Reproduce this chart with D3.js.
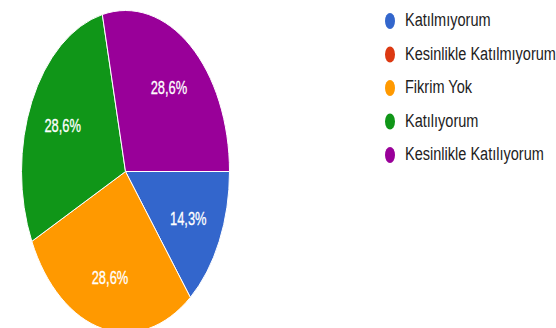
<!DOCTYPE html>
<html>
<head>
<meta charset="utf-8">
<script src="https://cdn.jsdelivr.net/npm/d3@7"></script>
<style>
  html, body { margin: 0; padding: 0; background: #fff; }
  svg { display: block; }
  text { font-family: "Liberation Sans", Arial, sans-serif; }
</style>
</head>
<body>
<svg id="chart" width="556" height="328"></svg>
<script>
// Survey answers and their counts
const categories = ["Katılmıyorum", "Kesinlikle Katılmıyorum", "Fikrim Yok", "Katılıyorum", "Kesinlikle Katılıyorum"];
const counts = [1, 0, 2, 2, 2];
const colors = ["#3366cc", "#dc3912", "#ff9900", "#109618", "#990099"];

const svg = d3.select("#chart");

// Pie geometry (drawn as a circle, squeezed horizontally into an ellipse)
const cx = 125.5, cy = 171.5, ry = 161, rx = 104;
const sx = rx / ry;

const total = d3.sum(counts);
const fmt = v => (Math.round(v / total * 1000) / 10).toFixed(1).replace(".", ",") + "%";

const pie = d3.pie()
  .sort(null)
  .value(d => d.value)
  .startAngle(Math.PI / 2)
  .endAngle(Math.PI / 2 + 2 * Math.PI);

const data = categories.map((c, i) => ({ name: c, value: counts[i], color: colors[i] }));
const arcs = pie(data).filter(d => d.data.value > 0);

const arc = d3.arc().innerRadius(0).outerRadius(ry);
const labelArc = d3.arc().innerRadius(ry * 0.67).outerRadius(ry * 0.67);

const g = svg.append("g").attr("transform", `translate(${cx},${cy}) scale(${sx},1)`);
g.selectAll("path.slice")
  .data(arcs)
  .join("path")
  .attr("class", "slice")
  .attr("d", arc)
  .attr("fill", d => d.data.color)
  .attr("stroke", "#fff")
  .attr("stroke-width", 1)
  .attr("vector-effect", "non-scaling-stroke");

// Percentage labels inside slices
svg.append("g").selectAll("text")
  .data(arcs)
  .join("text")
  .attr("transform", d => {
    const [x, y] = labelArc.centroid(d);
    return `translate(${cx + x * sx},${cy + y}) scale(0.68,1)`;
  })
  .attr("text-anchor", "middle")
  .attr("dy", "0.36em")
  .attr("font-size", 19)
  .attr("fill", "#fff")
  .attr("stroke", "#fff")
  .attr("stroke-width", 0.3)
  .text(d => fmt(d.data.value));

// Legend
const legendY = d3.scalePoint().domain(categories).range([21, 155]);
const legend = svg.append("g").selectAll("g")
  .data(data)
  .join("g")
  .attr("transform", d => `translate(0,${legendY(d.name)})`);

legend.append("ellipse")
  .attr("cx", 390)
  .attr("cy", 0)
  .attr("rx", 5)
  .attr("ry", 8)
  .attr("fill", d => d.color);

legend.append("text")
  .attr("transform", "translate(405,5) scale(0.765,1)")
  .attr("font-size", 19)
  .attr("fill", "#222")
  .text(d => d.name);
</script>
</body>
</html>
